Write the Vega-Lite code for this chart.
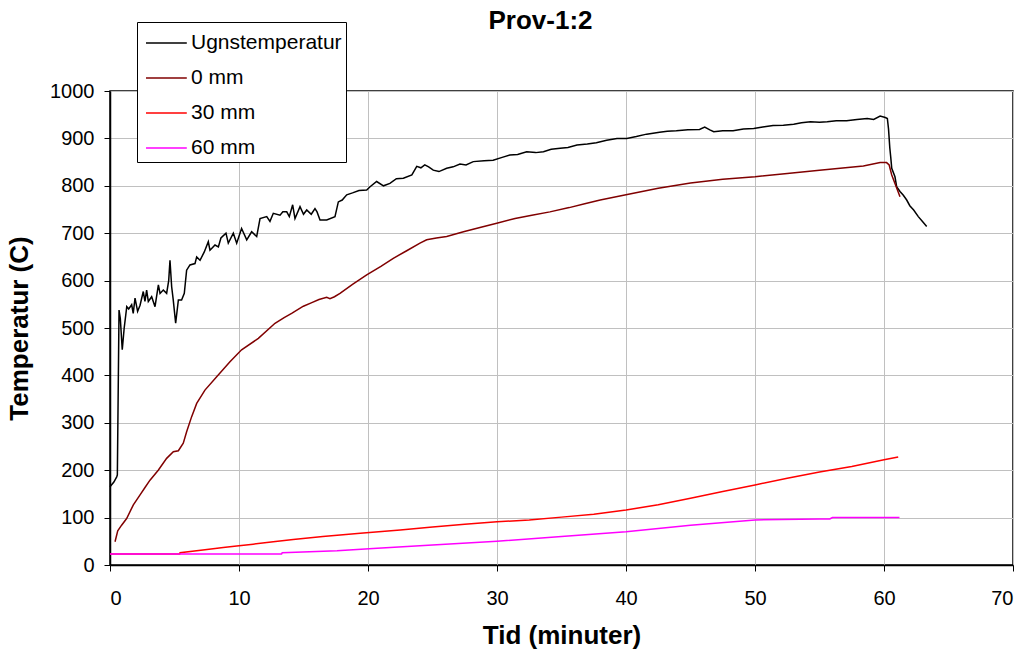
{
  "$schema": "https://vega.github.io/schema/vega-lite/v6.json",
  "width": 903,
  "height": 474,
  "autosize": {"type": "none"},
  "padding": {"left": 110, "top": 91, "right": 16, "bottom": 92},
  "background": "white",
  "title": {"text": "Prov-1:2", "fontSize": 26, "fontWeight": "bold", "font": "Liberation Sans", "color": "black", "anchor": "middle", "dx": -21, "offset": -12},
  "config": {
    "view": {"stroke": "black", "strokeWidth": 1.5},
    "axis": {"labelFont": "Liberation Sans", "titleFont": "Liberation Sans", "labelFontSize": 20, "titleFontSize": 26, "titleFontWeight": "bold", "labelColor": "black", "titleColor": "black", "domainColor": "black", "domainWidth": 1.5, "tickColor": "black", "tickSize": 6, "gridColor": "#c0c0c0", "gridWidth": 1},
    "legend": {"labelFont": "Liberation Sans"}
  },
  "data": {"values": [
    {"s":"Ugnstemperatur","t":0,"v":165},{"s":"Ugnstemperatur","t":0.3,"v":175},{"s":"Ugnstemperatur","t":0.52,"v":186},{"s":"Ugnstemperatur","t":0.57,"v":190},{"s":"Ugnstemperatur","t":0.7,"v":538},{"s":"Ugnstemperatur","t":0.8,"v":520},{"s":"Ugnstemperatur","t":0.95,"v":454},{"s":"Ugnstemperatur","t":1.1,"v":500},{"s":"Ugnstemperatur","t":1.3,"v":545},{"s":"Ugnstemperatur","t":1.45,"v":540},{"s":"Ugnstemperatur","t":1.68,"v":549},{"s":"Ugnstemperatur","t":1.8,"v":531},{"s":"Ugnstemperatur","t":1.94,"v":563},{"s":"Ugnstemperatur","t":2.14,"v":535},{"s":"Ugnstemperatur","t":2.33,"v":548},{"s":"Ugnstemperatur","t":2.58,"v":577},{"s":"Ugnstemperatur","t":2.71,"v":556},{"s":"Ugnstemperatur","t":2.84,"v":580},{"s":"Ugnstemperatur","t":2.97,"v":556},{"s":"Ugnstemperatur","t":3.23,"v":566},{"s":"Ugnstemperatur","t":3.49,"v":545},{"s":"Ugnstemperatur","t":3.75,"v":591},{"s":"Ugnstemperatur","t":3.88,"v":573},{"s":"Ugnstemperatur","t":4.13,"v":580},{"s":"Ugnstemperatur","t":4.39,"v":573},{"s":"Ugnstemperatur","t":4.55,"v":600},{"s":"Ugnstemperatur","t":4.65,"v":643},{"s":"Ugnstemperatur","t":4.78,"v":587},{"s":"Ugnstemperatur","t":4.9,"v":560},{"s":"Ugnstemperatur","t":5.09,"v":510},{"s":"Ugnstemperatur","t":5.3,"v":559},{"s":"Ugnstemperatur","t":5.55,"v":559},{"s":"Ugnstemperatur","t":5.76,"v":573},{"s":"Ugnstemperatur","t":5.94,"v":622},{"s":"Ugnstemperatur","t":6.2,"v":633},{"s":"Ugnstemperatur","t":6.59,"v":636},{"s":"Ugnstemperatur","t":6.72,"v":650},{"s":"Ugnstemperatur","t":6.98,"v":643},{"s":"Ugnstemperatur","t":7.3,"v":660},{"s":"Ugnstemperatur","t":7.62,"v":682},{"s":"Ugnstemperatur","t":7.75,"v":664},{"s":"Ugnstemperatur","t":8.14,"v":675},{"s":"Ugnstemperatur","t":8.4,"v":671},{"s":"Ugnstemperatur","t":8.6,"v":690},{"s":"Ugnstemperatur","t":8.99,"v":700},{"s":"Ugnstemperatur","t":9.17,"v":679},{"s":"Ugnstemperatur","t":9.56,"v":700},{"s":"Ugnstemperatur","t":9.82,"v":679},{"s":"Ugnstemperatur","t":10.2,"v":710},{"s":"Ugnstemperatur","t":10.6,"v":686},{"s":"Ugnstemperatur","t":10.98,"v":703},{"s":"Ugnstemperatur","t":11.37,"v":693},{"s":"Ugnstemperatur","t":11.63,"v":731},{"s":"Ugnstemperatur","t":12.15,"v":735},{"s":"Ugnstemperatur","t":12.4,"v":725},{"s":"Ugnstemperatur","t":12.66,"v":742},{"s":"Ugnstemperatur","t":13.18,"v":738},{"s":"Ugnstemperatur","t":13.4,"v":745},{"s":"Ugnstemperatur","t":13.7,"v":745},{"s":"Ugnstemperatur","t":13.9,"v":735},{"s":"Ugnstemperatur","t":14.16,"v":760},{"s":"Ugnstemperatur","t":14.34,"v":731},{"s":"Ugnstemperatur","t":14.73,"v":756},{"s":"Ugnstemperatur","t":15.0,"v":740},{"s":"Ugnstemperatur","t":15.25,"v":749},{"s":"Ugnstemperatur","t":15.6,"v":740},{"s":"Ugnstemperatur","t":15.89,"v":752},{"s":"Ugnstemperatur","t":16.05,"v":745},{"s":"Ugnstemperatur","t":16.28,"v":728},{"s":"Ugnstemperatur","t":16.8,"v":728},{"s":"Ugnstemperatur","t":17.44,"v":735},{"s":"Ugnstemperatur","t":17.7,"v":766},{"s":"Ugnstemperatur","t":18.0,"v":770},{"s":"Ugnstemperatur","t":18.35,"v":781},{"s":"Ugnstemperatur","t":18.8,"v":785},{"s":"Ugnstemperatur","t":19.3,"v":790},{"s":"Ugnstemperatur","t":19.9,"v":791},{"s":"Ugnstemperatur","t":20.16,"v":798},{"s":"Ugnstemperatur","t":20.67,"v":809},{"s":"Ugnstemperatur","t":21.2,"v":800},{"s":"Ugnstemperatur","t":21.7,"v":805},{"s":"Ugnstemperatur","t":22.2,"v":815},{"s":"Ugnstemperatur","t":22.74,"v":816},{"s":"Ugnstemperatur","t":23.4,"v":823},{"s":"Ugnstemperatur","t":23.78,"v":841},{"s":"Ugnstemperatur","t":24.1,"v":838},{"s":"Ugnstemperatur","t":24.4,"v":844},{"s":"Ugnstemperatur","t":24.7,"v":840},{"s":"Ugnstemperatur","t":25.06,"v":833},{"s":"Ugnstemperatur","t":25.5,"v":830},{"s":"Ugnstemperatur","t":26.1,"v":837},{"s":"Ugnstemperatur","t":26.6,"v":840},{"s":"Ugnstemperatur","t":27.13,"v":846},{"s":"Ugnstemperatur","t":27.6,"v":844},{"s":"Ugnstemperatur","t":28.16,"v":851},{"s":"Ugnstemperatur","t":29.0,"v":853},{"s":"Ugnstemperatur","t":29.7,"v":854},{"s":"Ugnstemperatur","t":30.4,"v":860},{"s":"Ugnstemperatur","t":31.0,"v":865},{"s":"Ugnstemperatur","t":31.6,"v":866},{"s":"Ugnstemperatur","t":32.3,"v":872},{"s":"Ugnstemperatur","t":33.0,"v":870},{"s":"Ugnstemperatur","t":33.6,"v":872},{"s":"Ugnstemperatur","t":34.2,"v":877},{"s":"Ugnstemperatur","t":34.9,"v":879},{"s":"Ugnstemperatur","t":35.5,"v":881},{"s":"Ugnstemperatur","t":36.2,"v":886},{"s":"Ugnstemperatur","t":37.0,"v":888},{"s":"Ugnstemperatur","t":37.7,"v":891},{"s":"Ugnstemperatur","t":38.5,"v":896},{"s":"Ugnstemperatur","t":39.3,"v":900},{"s":"Ugnstemperatur","t":40.06,"v":900},{"s":"Ugnstemperatur","t":40.8,"v":904},{"s":"Ugnstemperatur","t":41.6,"v":909},{"s":"Ugnstemperatur","t":42.6,"v":913},{"s":"Ugnstemperatur","t":43.2,"v":915},{"s":"Ugnstemperatur","t":43.9,"v":916},{"s":"Ugnstemperatur","t":44.8,"v":918},{"s":"Ugnstemperatur","t":45.7,"v":919},{"s":"Ugnstemperatur","t":46.1,"v":924},{"s":"Ugnstemperatur","t":46.5,"v":918},{"s":"Ugnstemperatur","t":46.8,"v":914},{"s":"Ugnstemperatur","t":47.5,"v":916},{"s":"Ugnstemperatur","t":48.3,"v":916},{"s":"Ugnstemperatur","t":49.1,"v":920},{"s":"Ugnstemperatur","t":49.9,"v":921},{"s":"Ugnstemperatur","t":50.6,"v":924},{"s":"Ugnstemperatur","t":51.4,"v":927},{"s":"Ugnstemperatur","t":52.2,"v":928},{"s":"Ugnstemperatur","t":53.0,"v":930},{"s":"Ugnstemperatur","t":53.6,"v":933},{"s":"Ugnstemperatur","t":54.3,"v":935},{"s":"Ugnstemperatur","t":55.0,"v":934},{"s":"Ugnstemperatur","t":55.6,"v":935},{"s":"Ugnstemperatur","t":56.3,"v":937},{"s":"Ugnstemperatur","t":57.1,"v":937},{"s":"Ugnstemperatur","t":57.9,"v":940},{"s":"Ugnstemperatur","t":58.7,"v":942},{"s":"Ugnstemperatur","t":59.2,"v":940},{"s":"Ugnstemperatur","t":59.7,"v":947},{"s":"Ugnstemperatur","t":60.1,"v":944},{"s":"Ugnstemperatur","t":60.26,"v":942},{"s":"Ugnstemperatur","t":60.35,"v":920},{"s":"Ugnstemperatur","t":60.45,"v":880},{"s":"Ugnstemperatur","t":60.52,"v":861},{"s":"Ugnstemperatur","t":60.6,"v":837},{"s":"Ugnstemperatur","t":60.85,"v":819},{"s":"Ugnstemperatur","t":60.98,"v":798},{"s":"Ugnstemperatur","t":61.24,"v":788},{"s":"Ugnstemperatur","t":61.5,"v":780},{"s":"Ugnstemperatur","t":61.76,"v":770},{"s":"Ugnstemperatur","t":62.0,"v":758},{"s":"Ugnstemperatur","t":62.3,"v":749},{"s":"Ugnstemperatur","t":62.66,"v":735},{"s":"Ugnstemperatur","t":63.0,"v":724},{"s":"Ugnstemperatur","t":63.31,"v":714},
    {"s":"0 mm","t":0.39,"v":49},{"s":"0 mm","t":0.6,"v":72},{"s":"0 mm","t":0.9,"v":84},{"s":"0 mm","t":1.29,"v":98},{"s":"0 mm","t":1.81,"v":127},{"s":"0 mm","t":2.33,"v":148},{"s":"0 mm","t":2.7,"v":163},{"s":"0 mm","t":3.1,"v":179},{"s":"0 mm","t":3.74,"v":200},{"s":"0 mm","t":4.39,"v":225},{"s":"0 mm","t":4.91,"v":239},{"s":"0 mm","t":5.3,"v":241},{"s":"0 mm","t":5.68,"v":257},{"s":"0 mm","t":5.94,"v":281},{"s":"0 mm","t":6.33,"v":313},{"s":"0 mm","t":6.72,"v":341},{"s":"0 mm","t":7.36,"v":369},{"s":"0 mm","t":8.27,"v":397},{"s":"0 mm","t":9.3,"v":429},{"s":"0 mm","t":10.2,"v":454},{"s":"0 mm","t":11.5,"v":478},{"s":"0 mm","t":12.79,"v":510},{"s":"0 mm","t":13.5,"v":522},{"s":"0 mm","t":14.08,"v":531},{"s":"0 mm","t":14.99,"v":546},{"s":"0 mm","t":15.6,"v":553},{"s":"0 mm","t":16.2,"v":560},{"s":"0 mm","t":16.8,"v":565},{"s":"0 mm","t":17.05,"v":562},{"s":"0 mm","t":17.4,"v":566},{"s":"0 mm","t":17.83,"v":573},{"s":"0 mm","t":18.8,"v":592},{"s":"0 mm","t":19.9,"v":612},{"s":"0 mm","t":21.0,"v":630},{"s":"0 mm","t":21.96,"v":647},{"s":"0 mm","t":23.0,"v":663},{"s":"0 mm","t":24.03,"v":679},{"s":"0 mm","t":24.55,"v":686},{"s":"0 mm","t":25.3,"v":690},{"s":"0 mm","t":26.1,"v":693},{"s":"0 mm","t":27.4,"v":703},{"s":"0 mm","t":28.68,"v":712},{"s":"0 mm","t":29.98,"v":721},{"s":"0 mm","t":31.4,"v":731},{"s":"0 mm","t":32.7,"v":738},{"s":"0 mm","t":34.1,"v":745},{"s":"0 mm","t":35.6,"v":754},{"s":"0 mm","t":36.8,"v":762},{"s":"0 mm","t":38.0,"v":770},{"s":"0 mm","t":40.0,"v":781},{"s":"0 mm","t":42.5,"v":795},{"s":"0 mm","t":45.0,"v":806},{"s":"0 mm","t":47.5,"v":814},{"s":"0 mm","t":50.0,"v":819},{"s":"0 mm","t":52.5,"v":826},{"s":"0 mm","t":55.0,"v":833},{"s":"0 mm","t":56.6,"v":837},{"s":"0 mm","t":58.4,"v":842},{"s":"0 mm","t":59.7,"v":849},{"s":"0 mm","t":60.2,"v":849},{"s":"0 mm","t":60.4,"v":844},{"s":"0 mm","t":60.6,"v":823},{"s":"0 mm","t":60.85,"v":805},{"s":"0 mm","t":61.24,"v":777},
    {"s":"30 mm","t":0,"v":23},{"s":"30 mm","t":5.4,"v":23},{"s":"30 mm","t":5.43,"v":26},{"s":"30 mm","t":7.36,"v":32},{"s":"30 mm","t":8.78,"v":37},{"s":"30 mm","t":9.82,"v":40},{"s":"30 mm","t":11.1,"v":44},{"s":"30 mm","t":12.66,"v":49},{"s":"30 mm","t":14.2,"v":54},{"s":"30 mm","t":16.5,"v":60},{"s":"30 mm","t":19.4,"v":67},{"s":"30 mm","t":22.5,"v":74},{"s":"30 mm","t":25,"v":80},{"s":"30 mm","t":27.5,"v":86},{"s":"30 mm","t":30,"v":91},{"s":"30 mm","t":32.5,"v":95},{"s":"30 mm","t":35,"v":101},{"s":"30 mm","t":37.5,"v":107},{"s":"30 mm","t":40,"v":116},{"s":"30 mm","t":42.5,"v":127},{"s":"30 mm","t":45,"v":141},{"s":"30 mm","t":47.5,"v":155},{"s":"30 mm","t":50,"v":169},{"s":"30 mm","t":52.5,"v":183},{"s":"30 mm","t":55,"v":196},{"s":"30 mm","t":57.5,"v":208},{"s":"30 mm","t":60,"v":222},{"s":"30 mm","t":61.1,"v":228},
    {"s":"60 mm","t":0,"v":23},{"s":"60 mm","t":13.3,"v":23},{"s":"60 mm","t":13.35,"v":26},{"s":"60 mm","t":17.6,"v":30},{"s":"60 mm","t":20.4,"v":35},{"s":"60 mm","t":25,"v":42},{"s":"60 mm","t":30,"v":50},{"s":"60 mm","t":35,"v":60},{"s":"60 mm","t":40,"v":70},{"s":"60 mm","t":45,"v":84},{"s":"60 mm","t":50,"v":95},{"s":"60 mm","t":55,"v":97},{"s":"60 mm","t":55.8,"v":97},{"s":"60 mm","t":56,"v":100},{"s":"60 mm","t":61.2,"v":100}
  ]},
  "mark": {"type": "line", "strokeWidth": 1.5},
  "encoding": {
    "x": {"field": "t", "type": "quantitative", "title": "Tid (minuter)", "scale": {"domain": [0, 70], "nice": false}, "axis": {"values": [0,10,20,30,40,50,60,70], "format": "d", "labelPadding": 17, "titlePadding": 14}},
    "y": {"field": "v", "type": "quantitative", "title": "Temperatur (C)", "scale": {"domain": [0, 1000], "nice": false}, "axis": {"values": [0,100,200,300,400,500,600,700,800,900,1000], "format": "d", "labelPadding": 10, "titlePadding": 17}},
    "color": {"field": "s", "type": "nominal", "title": null,
      "scale": {"domain": ["Ugnstemperatur", "0 mm", "30 mm", "60 mm"], "range": ["#000000", "#800000", "#ff0000", "#ff00ff"]},
      "legend": {"orient": "none", "legendX": 27, "legendY": -69, "strokeColor": "black", "fillColor": "white", "padding": 4, "symbolType": "M-0.75,0H1.8", "symbolSize": 1024, "symbolStrokeWidth": 1.5, "labelFontSize": 21, "labelColor": "black", "labelOffset": 16, "rowPadding": 8}
    },
    "order": {"field": "t", "type": "quantitative"}
  }
}
